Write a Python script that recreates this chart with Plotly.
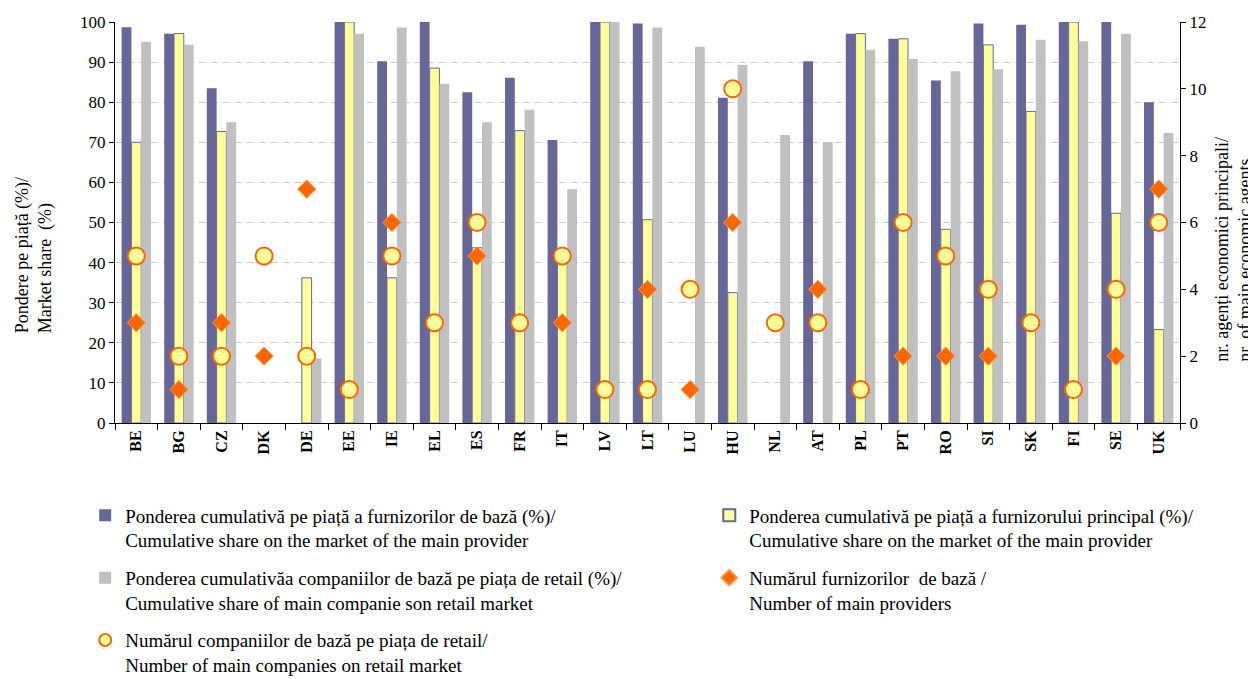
import plotly.graph_objects as go

# tări
countries = ["BE", "BG", "CZ", "DK", "DE", "EE", "IE", "EL", "ES", "FR", "IT", "LV", "LT",
             "LU", "HU", "NL", "AT", "PL", "PT", "RO", "SI", "SK", "FI", "SE", "UK"]

# ponderea cumulativa a furnizorilor de baza (%)
share_base_providers = [98.7, 97.1, 83.5, None, None, 100, 90.2, 100, 82.5, 86.1, 70.6, 100, 99.6,
                        None, 81.1, None, 90.2, 97.1, 95.8, 85.4, 99.6, 99.3, 100, 100, 80.0]
# ponderea cumulativa a furnizorului principal (%)
share_main_provider = [70.0, 97.1, 72.7, None, 36.2, 100, 36.2, 88.5, 43.7, 72.9, 42.0, 100, 50.7,
                       None, 32.5, None, None, 97.1, 95.8, 48.3, 94.3, 77.7, 100, 52.3, 23.3]
# ponderea cumulativa a companiilor de baza pe piata de retail (%)
share_retail = [95.1, 94.3, 75.0, None, 16.1, 97.1, 98.6, 84.6, 75.0, 78.1, 58.3, 100, 98.6,
                93.8, 89.3, 71.8, 70.0, 93.1, 90.8, 87.7, 88.2, 95.6, 95.2, 97.1, 72.3]
# numarul furnizorilor de baza
n_providers = [3, 1, 3, 2, 7, 1, 6, None, 5, None, 3, 1, 4,
               1, 6, None, 4, 1, 2, 2, 2, None, 1, 2, 7]
# numarul companiilor de baza pe piata de retail
n_retail = [5, 2, 2, 5, 2, 1, 5, 3, 6, 3, 5, 1, 1,
            4, 10, 3, 3, 1, 6, 5, 4, 3, 1, 4, 6]

FONT = "Liberation Serif"

fig = go.Figure()

# legenda din stanga: albastru, gri, cerc; dreapta: galben, romb
fig.add_trace(go.Bar(
    x=countries, y=share_base_providers, legend="legend", legendgroup="a",
    name="Ponderea cumulativă pe piață a furnizorilor de bază (%)/<br>Cumulative share on the market of the main provider",
    marker=dict(color="#666699", line=dict(width=0)),
))
fig.add_trace(go.Bar(
    x=countries, y=share_main_provider, legend="legend2", legendgroup="b",
    name="Ponderea cumulativă pe piață a furnizorului principal (%)/<br>Cumulative share on the market of the main provider",
    marker=dict(color="#FFFF99", line=dict(color="#666699", width=1)),
))
fig.add_trace(go.Bar(
    x=countries, y=share_retail, legend="legend", legendgroup="c",
    name="Ponderea cumulativăa companiilor de bază pe piața de retail (%)/<br>Cumulative share of main companie son retail market",
    marker=dict(color="#C0C0C0", line=dict(width=0)),
))
fig.add_trace(go.Scatter(
    x=countries, y=n_providers, yaxis="y2", mode="markers", legend="legend2", legendgroup="d",
    name="Numărul furnizorilor  de bază /<br>Number of main providers",
    marker=dict(symbol="diamond", size=14, color="#FF6600", line=dict(color="#FF9933", width=1)),
))
fig.add_trace(go.Scatter(
    x=countries, y=n_retail, yaxis="y2", mode="markers", legend="legend", legendgroup="e",
    name="Numărul companiilor de bază pe piața de retail/<br>Number of main companies on retail market",
    marker=dict(symbol="circle", size=17, color="#FFFF99", line=dict(color="#FF6600", width=2)),
))

legend_style = dict(
    orientation="v", yanchor="top", xanchor="left", valign="top",
    font=dict(family=FONT, size=19), tracegroupgap=10, traceorder="grouped",
    itemsizing="constant", bgcolor="rgba(0,0,0,0)",
)

# pagina are margine de 8px, deci figura e 1248x671
fig.update_layout(
    width=1248, height=671,
    paper_bgcolor="white", plot_bgcolor="white",
    font=dict(family=FONT, size=17, color="black"),
    margin=dict(l=107, r=76, t=14, b=256, autoexpand=False),
    barmode="group", bargap=0.31, bargroupgap=0,
    showlegend=True,
    legend=dict(x=-0.028, y=-0.183, **legend_style),
    legend2=dict(x=0.558, y=-0.183, **legend_style),
    xaxis=dict(
        type="category", range=[-0.5, 24.5], showline=True, linecolor="black", linewidth=1,
        ticks="outside", tickson="boundaries", ticklen=6, tickcolor="black",
        tickangle=-90, tickfont=dict(family=FONT, size=16, color="black"),
        tickprefix="<b>", ticksuffix="</b>",
    ),
    yaxis=dict(
        range=[0, 100], dtick=10, showline=True, linecolor="black", linewidth=1,
        ticks="outside", ticklen=5, tickcolor="black",
        showgrid=True, gridcolor="#CCCCCC", griddash="7px,5px", gridwidth=1,
        zeroline=False, tickfont=dict(family=FONT, size=17),
    ),
    yaxis2=dict(
        range=[0, 12], dtick=2, overlaying="y", side="right",
        showline=True, linecolor="black", linewidth=1,
        ticks="outside", ticklen=5, tickcolor="black", showgrid=False, zeroline=False,
        tickfont=dict(family=FONT, size=17),
    ),
    annotations=[
        dict(text="Pondere pe piață (%)/<br>Market share  (%)", xref="paper", yref="paper",
             x=-0.0761, y=0.418, xanchor="center", yanchor="middle", textangle=-90,
             align="left", showarrow=False, font=dict(family=FONT, size=18)),
        dict(text="nr. agenți economici principali/<br>nr. of main economic agents", xref="paper", yref="paper",
             x=1.0502, y=0.433, xanchor="center", yanchor="middle", textangle=-90,
             align="left", showarrow=False, font=dict(family=FONT, size=18)),
    ],
)

fig.write_html("out.html")
